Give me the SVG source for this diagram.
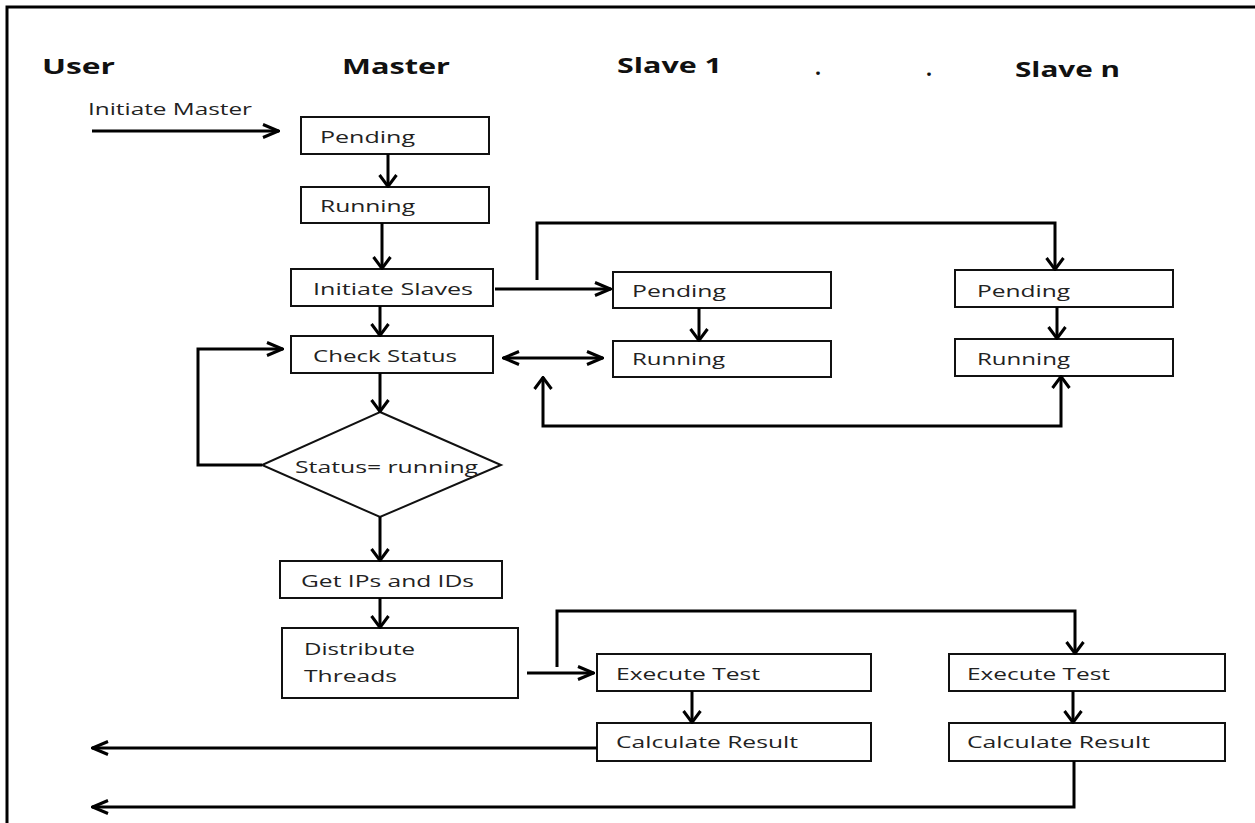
<svg xmlns="http://www.w3.org/2000/svg" width="1255" height="823" viewBox="0 0 1255 823">
  <style>
    .box { fill: #fff; stroke: #111; stroke-width: 2; }
    .lbl { font-family: "Open Sans", "DejaVu Sans", sans-serif; font-size: 16px; fill: #222; }
    .hdr { font-family: "Open Sans", "DejaVu Sans", sans-serif; font-size: 21px; font-weight: bold; fill: #111; }
    .wire { fill: none; stroke: #000; stroke-width: 3; stroke-linejoin: miter; }
    .frame { fill: none; stroke: #000; stroke-width: 3; }
  </style>
  <defs>
    <!-- open chevron for horizontal runs -->
    <marker id="ah" viewBox="0 0 18 16" refX="17" refY="8" markerWidth="18" markerHeight="16" markerUnits="userSpaceOnUse" orient="auto-start-reverse">
      <path d="M1,1.5 L16.5,8 L1,14.5" fill="none" stroke="#000" stroke-width="3"/>
    </marker>
    <!-- open chevron for vertical runs -->
    <marker id="av" viewBox="0 0 14 20" refX="13" refY="10" markerWidth="14" markerHeight="20" markerUnits="userSpaceOnUse" orient="auto-start-reverse">
      <path d="M1,1.5 L12.5,10 L1,18.5" fill="none" stroke="#000" stroke-width="3"/>
    </marker>
  </defs>

  <rect width="1255" height="823" fill="#fff"/>
  <!-- page frame: top and left edges -->
  <path class="frame" d="M7,823 V7 H1255"/>

  <!-- lane headings -->
  <g id="headings">
    <text class="hdr" x="42" y="74" textLength="73" lengthAdjust="spacingAndGlyphs">User</text>
    <text class="hdr" x="342" y="74" textLength="108" lengthAdjust="spacingAndGlyphs">Master</text>
    <text class="hdr" x="617" y="73" textLength="105" lengthAdjust="spacingAndGlyphs">Slave 1</text>
    <text class="hdr" x="815" y="75">.</text>
    <text class="hdr" x="926" y="76">.</text>
    <text class="hdr" x="1015" y="77" textLength="105" lengthAdjust="spacingAndGlyphs">Slave n</text>
    <text class="lbl" x="88" y="115" textLength="164" lengthAdjust="spacingAndGlyphs">Initiate Master</text>
  </g>

  <!-- master lane -->
  <g id="master-pending">
    <rect class="box" x="301" y="117" width="188" height="37"/>
    <text class="lbl" x="320" y="143" textLength="95" lengthAdjust="spacingAndGlyphs">Pending</text>
  </g>
  <g id="master-running">
    <rect class="box" x="301" y="187" width="188" height="36"/>
    <text class="lbl" x="320" y="212" textLength="95" lengthAdjust="spacingAndGlyphs">Running</text>
  </g>
  <g id="initiate-slaves">
    <rect class="box" x="291" y="269" width="202" height="37"/>
    <text class="lbl" x="313" y="295" textLength="160" lengthAdjust="spacingAndGlyphs">Initiate Slaves</text>
  </g>
  <g id="check-status">
    <rect class="box" x="291" y="336" width="202" height="37"/>
    <text class="lbl" x="313" y="362" textLength="144" lengthAdjust="spacingAndGlyphs">Check Status</text>
  </g>
  <g id="status-decision">
    <polygon class="box" points="380,412 501,465 380,517 262,465"/>
    <text class="lbl" x="295" y="473" textLength="183" lengthAdjust="spacingAndGlyphs">Status= running</text>
  </g>
  <g id="get-ips">
    <rect class="box" x="280" y="561" width="222" height="37"/>
    <text class="lbl" x="301" y="587" textLength="173" lengthAdjust="spacingAndGlyphs">Get IPs and IDs</text>
  </g>
  <g id="distribute-threads">
    <rect class="box" x="282" y="628" width="236" height="70"/>
    <text class="lbl" x="304" y="655" textLength="111" lengthAdjust="spacingAndGlyphs">Distribute</text>
    <text class="lbl" x="304" y="682" textLength="93" lengthAdjust="spacingAndGlyphs">Threads</text>
  </g>

  <!-- slave 1 lane -->
  <g id="s1-pending">
    <rect class="box" x="613" y="272" width="218" height="36"/>
    <text class="lbl" x="632" y="297" textLength="94" lengthAdjust="spacingAndGlyphs">Pending</text>
  </g>
  <g id="s1-running">
    <rect class="box" x="613" y="341" width="218" height="36"/>
    <text class="lbl" x="632" y="365" textLength="93" lengthAdjust="spacingAndGlyphs">Running</text>
  </g>
  <g id="s1-execute">
    <rect class="box" x="597" y="654" width="274" height="37"/>
    <text class="lbl" x="616" y="680" textLength="144" lengthAdjust="spacingAndGlyphs">Execute Test</text>
  </g>
  <g id="s1-calculate">
    <rect class="box" x="597" y="723" width="274" height="38"/>
    <text class="lbl" x="616" y="748" textLength="182" lengthAdjust="spacingAndGlyphs">Calculate Result</text>
  </g>

  <!-- slave n lane -->
  <g id="sn-pending">
    <rect class="box" x="955" y="270" width="218" height="37"/>
    <text class="lbl" x="977" y="297" textLength="93" lengthAdjust="spacingAndGlyphs">Pending</text>
  </g>
  <g id="sn-running">
    <rect class="box" x="955" y="339" width="218" height="37"/>
    <text class="lbl" x="977" y="365" textLength="93" lengthAdjust="spacingAndGlyphs">Running</text>
  </g>
  <g id="sn-execute">
    <rect class="box" x="949" y="654" width="276" height="37"/>
    <text class="lbl" x="967" y="680" textLength="143" lengthAdjust="spacingAndGlyphs">Execute Test</text>
  </g>
  <g id="sn-calculate">
    <rect class="box" x="949" y="723" width="276" height="38"/>
    <text class="lbl" x="967" y="748" textLength="183" lengthAdjust="spacingAndGlyphs">Calculate Result</text>
  </g>

  <!-- connectors -->
  <g id="connectors">
    <path class="wire" d="M92,131 H279" marker-end="url(#ah)"/>
    <path class="wire" d="M388,154 V187" marker-end="url(#av)"/>
    <path class="wire" d="M382,223 V269" marker-end="url(#av)"/>
    <path class="wire" d="M380,306 V336" marker-end="url(#av)"/>
    <path class="wire" d="M380,373 V412" marker-end="url(#av)"/>
    <path class="wire" d="M262,465 H198 V349 H283" marker-end="url(#ah)"/>
    <path class="wire" d="M380,517 V561" marker-end="url(#av)"/>
    <path class="wire" d="M380,598 V628" marker-end="url(#av)"/>

    <path class="wire" d="M495,289 H611" marker-end="url(#ah)"/>
    <path class="wire" d="M537,280 V223 H1055 V270" marker-end="url(#av)"/>
    <path class="wire" d="M503,358 H603" marker-start="url(#ah)" marker-end="url(#ah)"/>
    <path class="wire" d="M543,377 V426 H1061 V376" marker-start="url(#av)" marker-end="url(#av)"/>
    <path class="wire" d="M699,308 V341" marker-end="url(#av)"/>
    <path class="wire" d="M1057,307 V339" marker-end="url(#av)"/>

    <path class="wire" d="M527,673 H594" marker-end="url(#ah)"/>
    <path class="wire" d="M557,667 V611 H1075 V654" marker-end="url(#av)"/>
    <path class="wire" d="M692,691 V723" marker-end="url(#av)"/>
    <path class="wire" d="M1073,691 V723" marker-end="url(#av)"/>
    <path class="wire" d="M597,748 H92" marker-end="url(#ah)"/>
    <path class="wire" d="M1074,761 V807 H92" marker-end="url(#ah)"/>
  </g>
</svg>
